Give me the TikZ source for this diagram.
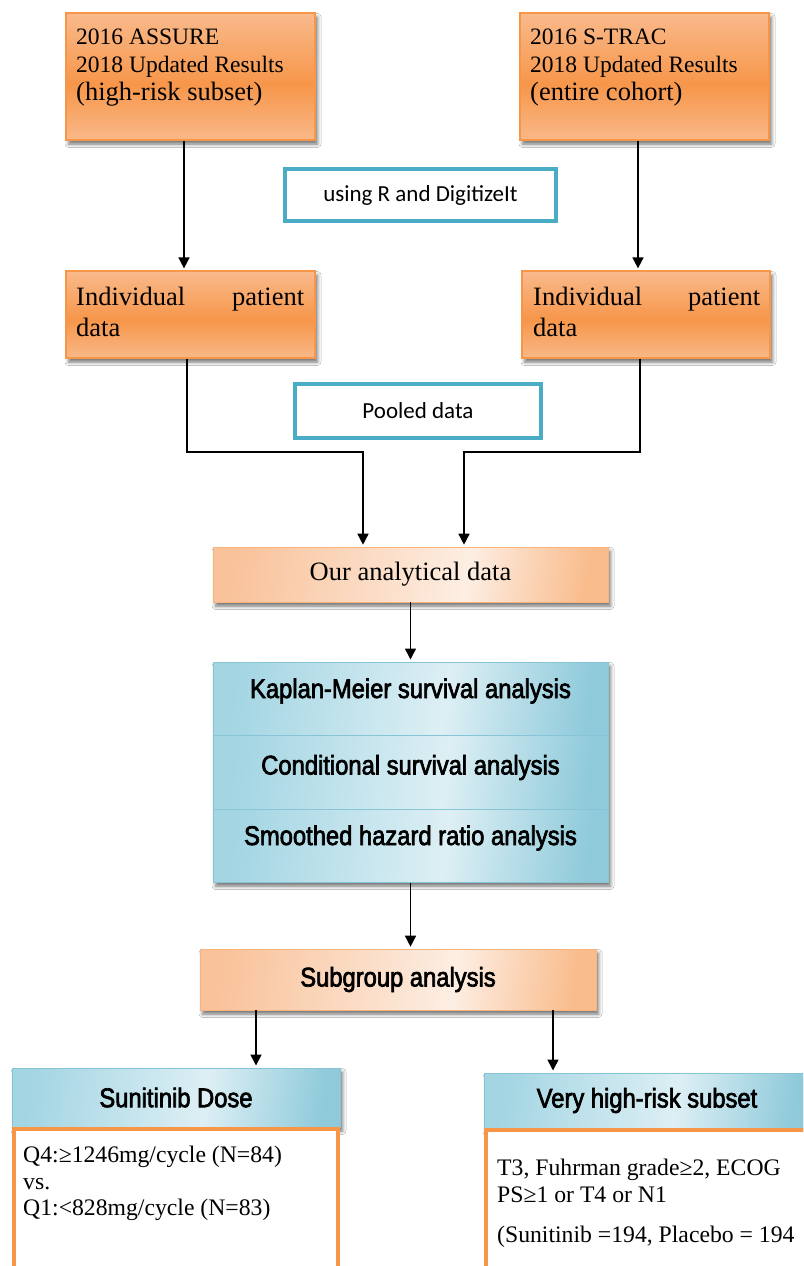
\documentclass[tikz,border=0pt]{standalone}
\usepackage{fontspec}
\setmainfont{Liberation Serif}
\newfontfamily\calib{Carlito}
\newfontfamily\condsf[FakeStretch=0.88,FakeBold=2.5]{Liberation Sans}
\usetikzlibrary{arrows.meta,shadows.blur}
\definecolor{oT}{HTML}{F9BA8C}
\definecolor{oM}{HTML}{F7964A}
\definecolor{oB}{HTML}{F9B888}
\definecolor{oLine}{HTML}{F79646}
\definecolor{loL}{HTML}{F9C29A}
\definecolor{loM}{HTML}{FDEEE3}
\definecolor{loR}{HTML}{F9BC8C}
\definecolor{bL}{HTML}{A3D5E3}
\definecolor{bM}{HTML}{DDEFF4}
\definecolor{bR}{HTML}{8FCADB}
\definecolor{bLine}{HTML}{4BACC6}
\definecolor{bEdge}{HTML}{86C4D6}
\pgfdeclarehorizontalshading{blueax}{100bp}{color(0bp)=(bL); color(25bp)=(bL); color(55bp)=(bM); color(75bp)=(bR); color(100bp)=(bR)}
\pgfdeclarehorizontalshading{lorax}{100bp}{color(0bp)=(loL); color(25bp)=(loL); color(58bp)=(loM); color(75bp)=(loR); color(100bp)=(loR)}
\pgfdeclareverticalshading{orax}{100bp}{color(0bp)=(oB); color(25bp)=(oB); color(47bp)=(oM); color(75bp)=(oT); color(100bp)=(oT)}
\tikzset{
  shad/.style={blur shadow={shadow xshift=2.5pt, shadow yshift=-4pt, shadow blur radius=3.5pt, shadow opacity=55}},
  obox/.style={rectangle, inner sep=0pt, draw=oLine, line width=1.2pt, shading=orax, shad},
  lobox/.style={rectangle, inner sep=0pt, draw=loR!80!oLine, line width=0.6pt, shading=lorax, shading angle=-8, shad,
     font=\fontsize{26.5}{30}\selectfont},
  bboxns/.style={rectangle, inner sep=0pt, draw=bEdge, line width=1pt, shading=blueax, shading angle=-8,
     font=\condsf\fontsize{27}{30}\selectfont},
  bbox/.style={bboxns, shad},
  tool/.style={rectangle, inner sep=0pt, draw=bLine, line width=4pt, fill=white, font=\calib\fontsize{23}{27}\selectfont},
  body/.style={rectangle, inner sep=0pt, draw=oLine, line width=4pt, fill=white},
  txt/.style={inner sep=0pt, align=left, anchor=north west},
  conn/.style={line width=1.5pt, black},
  arr/.style={conn, -{Triangle[length=11pt,width=11pt]}, shorten >=2pt},
}
\begin{document}
\begin{tikzpicture}[x=1pt,y=-1pt]
\useasboundingbox (0,0) rectangle (803,1266);
\clip (0,0) rectangle (803,1266);
\fill[white] (0,0) rectangle (803,1266);

% top source boxes
\node[obox, minimum width=249pt, minimum height=127pt] (TA) at (190.5,76.5) {};
\node[txt, font=\fontsize{23.5}{28}\selectfont] (TAt) at (76,29) {2016 ASSURE\\2018 Updated Results\\{\fontsize{26.5}{28}\selectfont (high-risk subset)}};
\node[obox, minimum width=249pt, minimum height=127pt] (TB) at (644.5,76.5) {};
\node[txt, font=\fontsize{23.5}{28}\selectfont] (TBt) at (530,29) {2016 S-TRAC\\2018 Updated Results\\{\fontsize{26.5}{28}\selectfont (entire cohort)}};

% tool box
\node[tool, minimum width=271pt, minimum height=52pt] (TOOL) at (420.5,195) {using R and DigitizeIt};

% individual patient data
\node[obox, minimum width=249pt, minimum height=87pt] (IA) at (190.5,314.5) {};
\node[txt, text width=228pt, font=\fontsize{26.5}{31}\selectfont] (IAt) at (76,287) {Individual\hfill patient\\data};
\node[obox, minimum width=248pt, minimum height=87pt] (IB) at (646,314.5) {};
\node[txt, text width=227pt, font=\fontsize{26.5}{31}\selectfont] (IBt) at (533,287) {Individual\hfill patient\\data};

% pooled
\node[tool, minimum width=246pt, minimum height=54pt] (POOL) at (418,411) {Pooled data};

% analytical data
\node[lobox, minimum width=395pt, minimum height=55pt] (OAD) at (410.5,574.5) {Our analytical data};

% analyses: one shared shadow behind the stack
\node[rectangle, inner sep=0pt, fill=white, shad, minimum width=395pt, minimum height=220pt] (KS) at (410.5,772) {};
\node[bboxns, minimum width=395pt, minimum height=73pt, text height=19pt, text depth=20pt] (K1) at (410.5,698.5) {Kaplan-Meier survival analysis};
\node[bboxns, minimum width=395pt, minimum height=74pt, text height=19pt, text depth=14pt] (K2) at (410.5,772) {Conditional survival analysis};
\node[bboxns, minimum width=395pt, minimum height=73pt, text height=19pt, text depth=20pt] (K3) at (410.5,845.5) {Smoothed hazard ratio analysis};

% subgroup
\node[lobox, font=\condsf\fontsize{27}{30}\selectfont, minimum width=396pt, minimum height=61pt] (SG) at (398,979.5) {Subgroup analysis};

% bottom left
\node[bbox, minimum width=328pt, minimum height=59pt] (SD) at (176,1097.5) {Sunitinib Dose};
\node[body, minimum width=324pt, minimum height=151pt] (SDB) at (176,1204.5) {};
\node[txt, font=\fontsize{23.7}{26.5}\selectfont] (SDt) at (23,1146) {Q4:≥1246mg/cycle (N=84)\\vs.\\Q1:<828mg/cycle (N=83)};

% bottom right
\node[bbox, minimum width=326pt, minimum height=55pt] (VH) at (647,1100.5) {Very high-risk subset};
\node[body, minimum width=326pt, minimum height=150pt] (VHB) at (649,1205) {};
\node[txt, font=\fontsize{23.7}{27}\selectfont] (VHt) at (497,1159) {T3, Fuhrman grade≥2, ECOG\\PS≥1 or T4 or N1\\[13pt](Sunitinib =194, Placebo = 194};

% connectors
\coordinate (jL) at (363,452);
\coordinate (jR) at (464,452);
\draw[arr] ([xshift=-6.5pt]TA.south) -- ([xshift=-6.5pt]IA.north);
\draw[arr] ([xshift=-6.5pt]TB.south) -- ([xshift=-8pt]IB.north);
\draw[arr] ([xshift=-3.5pt]IA.south) |- (jL) -- (jL |- OAD.north);
\draw[arr] ([xshift=-6pt]IB.south) |- (jR) -- (jR |- OAD.north);
\draw[arr] (OAD.south) -- (K1.north);
\draw[arr] (K3.south) -- (K3.south |- SG.north);
\draw[arr] ([xshift=-142pt]SG.south) -- ([xshift=-142pt]SG.south |- SD.north);
\draw[arr] ([xshift=155pt]SG.south) -- ([xshift=155pt]SG.south |- VH.north);
\end{tikzpicture}
\end{document}
